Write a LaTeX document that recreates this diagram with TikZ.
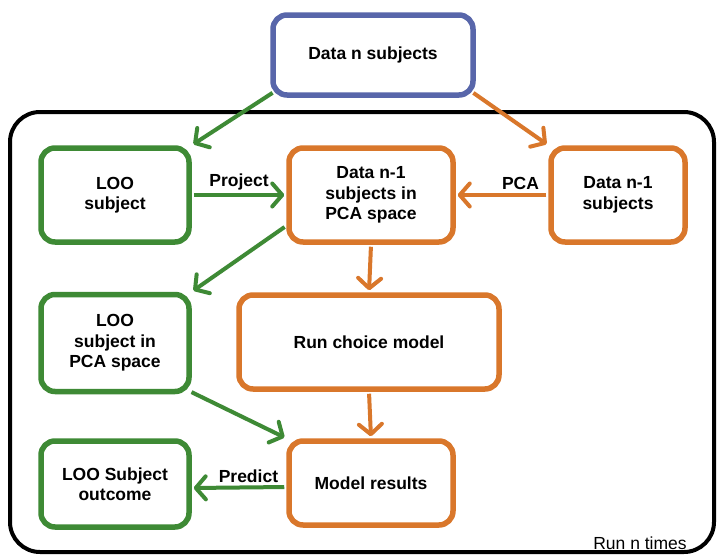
\documentclass[tikz,border=0pt]{standalone}
\usepackage{fontspec}
\setmainfont{Liberation Sans}
\usetikzlibrary{arrows.meta,calc}
\definecolor{cgreen}{HTML}{3E8A35}
\definecolor{corange}{HTML}{D9772B}
\definecolor{cblue}{HTML}{5866AA}
\begin{document}
\begin{tikzpicture}[x=1pt,y=-1pt,
  box/.style={draw, rounded corners=14pt, line width=5.5pt, fill=white, align=center,
    font=\fontsize{17.5}{20.5}\selectfont\bfseries, inner sep=0pt},
  gbox/.style={box, draw=cgreen},
  obox/.style={box, draw=corange},
  bbox/.style={box, draw=cblue},
  conn/.style={line width=4pt, -{Straight Barb[length=10pt,width=23pt,round]}, shorten >=2pt, shorten <=2pt},
  gconn/.style={conn, draw=cgreen},
  oconn/.style={conn, draw=corange},
  lbl/.style={font=\fontsize{17.5}{20.5}\selectfont\bfseries, inner sep=1pt},
  runlbl/.style={font=\fontsize{17.5}{20.5}\selectfont, inner sep=0pt}
]
\useasboundingbox (0,0) rectangle (718,555);
\fill[white] (0,0) rectangle (718,555);
\draw[line width=4pt, rounded corners=30pt] (10,112) rectangle (714,552);

\node[bbox, minimum width=200pt, minimum height=80pt] (top) at (373,55) {Data n subjects};
\node[gbox, minimum width=148pt, minimum height=94pt] (loo1) at (115,195) {LOO\\subject};
\node[obox, minimum width=164pt, minimum height=94pt] (pca) at (371,195) {Data n-1\\subjects in\\PCA space};
\node[obox, minimum width=134pt, minimum height=94pt] (dn1) at (618,195) {Data n-1\\subjects};
\node[gbox, minimum width=148pt, minimum height=97pt] (loo2) at (115,343) {LOO\\subject in\\PCA space};
\node[obox, minimum width=260pt, minimum height=94pt] (run) at (369,342) {Run choice model};
\node[gbox, minimum width=148pt, minimum height=86pt] (out) at (115,484) {LOO Subject\\outcome};
\node[obox, minimum width=164pt, minimum height=84pt] (res) at (371,483) {Model results};
\node[runlbl] (runn) at (640,543) {Run n times};

\draw[gconn] ($(top.south west)+(4,-6)$) -- (loo1.north east);
\draw[oconn] ($(top.south east)+(-4,-6)$) -- (dn1.north west);
\draw[gconn] (loo1.east) -- node[lbl, above=2pt] (plbl) {Project} (pca.west);
\draw[oconn] (dn1.west) -- node[lbl, above=2pt, pos=0.3] (pcalbl) {PCA} (pca.east);
\draw[gconn] (pca.200) -- (loo2.north east);
\draw[oconn] (pca.south) -- (run.north);
\draw[oconn] (run.south) -- (res.north);
\draw[gconn] ($(loo2.south east)+(-2,-3)$) -- (res.north west);
\draw[gconn] ($(res.west)+(0,4)$) -- node[lbl, above=2pt, pos=0.4] (prlbl) {Predict} ($(out.east)+(0,4)$);
\end{tikzpicture}
\end{document}
